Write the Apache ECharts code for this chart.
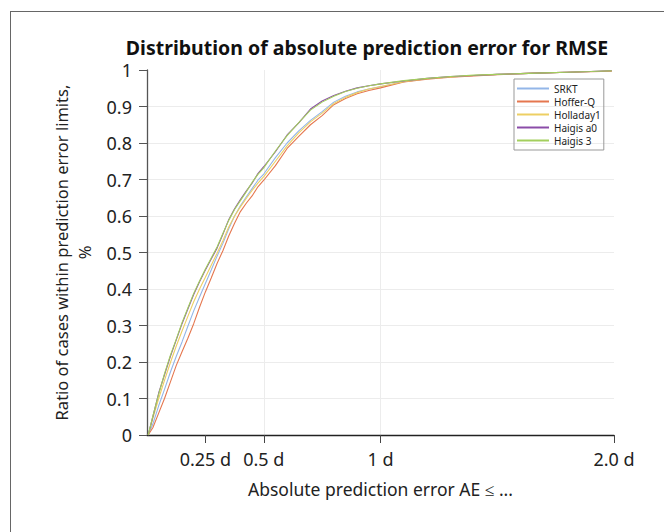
<!DOCTYPE html>
<html>
<head>
<meta charset="utf-8">
<script src="https://cdn.jsdelivr.net/npm/echarts@6/dist/echarts.min.js"></script>
<style>
  html, body { margin: 0; padding: 0; background: #fff; }
  #frame { position: absolute; left: 10px; top: 11px; right: 0; bottom: 0; border-top: 1.5px solid #666; border-left: 1.5px solid #666; }
  #chart { position: absolute; left: 0; top: 0; width: 664px; height: 532px; }
</style>
</head>
<body>
<div id="frame"></div>
<div id="chart"></div>
<script>
// Absolute prediction error limits (d)
var errorLimits = [0.005, 0.025, 0.05, 0.075, 0.1, 0.125, 0.15, 0.175, 0.2, 0.225, 0.25, 0.275, 0.3, 0.325, 0.35, 0.375, 0.4, 0.425, 0.45, 0.475, 0.5, 0.55, 0.6, 0.65, 0.7, 0.75, 0.8, 0.85, 0.9, 0.95, 1.0, 1.1, 1.2, 1.3, 1.4, 1.5, 1.6, 1.7, 1.8, 1.9, 1.99];

var srkt      = [0, 0.03, 0.08, 0.125, 0.172, 0.215, 0.255, 0.298, 0.34, 0.378, 0.415, 0.452, 0.49, 0.525, 0.565, 0.6, 0.628, 0.652, 0.675, 0.698, 0.715, 0.76, 0.8, 0.833, 0.862, 0.886, 0.912, 0.928, 0.94, 0.948, 0.954, 0.968, 0.976, 0.981, 0.985, 0.988, 0.99, 0.992, 0.994, 0.996, 0.997];
var hofferQ   = [0, 0.02, 0.06, 0.1, 0.145, 0.19, 0.228, 0.265, 0.305, 0.35, 0.392, 0.43, 0.47, 0.505, 0.545, 0.58, 0.612, 0.635, 0.655, 0.68, 0.698, 0.738, 0.785, 0.818, 0.85, 0.875, 0.905, 0.922, 0.935, 0.944, 0.951, 0.967, 0.975, 0.98, 0.984, 0.987, 0.99, 0.992, 0.994, 0.995, 0.997];
var holladay1 = [0, 0.045, 0.1, 0.15, 0.198, 0.243, 0.285, 0.325, 0.365, 0.4, 0.432, 0.465, 0.498, 0.532, 0.57, 0.6, 0.625, 0.648, 0.67, 0.69, 0.708, 0.75, 0.792, 0.828, 0.858, 0.882, 0.908, 0.925, 0.938, 0.948, 0.955, 0.968, 0.976, 0.981, 0.985, 0.988, 0.99, 0.992, 0.994, 0.996, 0.997];
var haigisA0  = [0, 0.05, 0.115, 0.165, 0.215, 0.26, 0.305, 0.345, 0.385, 0.42, 0.452, 0.482, 0.512, 0.55, 0.59, 0.62, 0.645, 0.668, 0.69, 0.716, 0.735, 0.776, 0.822, 0.855, 0.893, 0.915, 0.93, 0.942, 0.951, 0.957, 0.962, 0.97, 0.977, 0.982, 0.985, 0.988, 0.99, 0.992, 0.994, 0.996, 0.998];
var haigis3   = [0, 0.052, 0.112, 0.168, 0.218, 0.262, 0.308, 0.348, 0.388, 0.422, 0.455, 0.485, 0.515, 0.552, 0.588, 0.618, 0.642, 0.666, 0.692, 0.714, 0.732, 0.778, 0.82, 0.856, 0.89, 0.912, 0.928, 0.941, 0.95, 0.957, 0.962, 0.971, 0.977, 0.982, 0.986, 0.988, 0.99, 0.992, 0.994, 0.996, 0.998];

var seriesNames = ['SRKT', 'Hoffer-Q', 'Holladay1', 'Haigis a0', 'Haigis 3'];
var seriesValues = [srkt, hofferQ, holladay1, haigisA0, haigis3];
var seriesColors = ['#93b6e8', '#e5774f', '#edcf63', '#8b4ca8', '#a3cf5d'];

var xTickValues = [0.25, 0.5, 1, 2];
var xTickLabels = ['0.25 d', '0.5 d', '1 d', '2.0 d'];

var FONT = 'Noto Sans';

function pair(xs, ys) {
  return xs.map(function (x, i) { return [x, ys[i]]; });
}

var chart = echarts.init(document.getElementById('chart'), null, { renderer: 'svg' });
chart.setOption({
  backgroundColor: 'transparent',
  animation: false,
  textStyle: { fontFamily: FONT },
  title: {
    text: 'Distribution of absolute prediction error for RMSE',
    left: 362, top: 32, textAlign: 'center',
    textStyle: { fontFamily: FONT, fontSize: 19.5, fontWeight: 'bold', color: '#111' }
  },
  legend: {
    orient: 'vertical', left: 514, top: 79,
    padding: [3, 3, 3, 3], borderColor: '#999', borderWidth: 1,
    itemWidth: 32, itemHeight: 2, itemGap: 0, icon: 'rect',
    textStyle: { fontFamily: FONT, fontSize: 10, lineHeight: 13, color: '#222' },
    data: seriesNames
  },
  grid: { left: 147, right: 50, top: 70, bottom: 97 },
  xAxis: {
    type: 'value', min: 0, max: 2,
    name: 'Absolute prediction error AE \u2264 ...',
    nameLocation: 'middle', nameGap: 45,
    nameTextStyle: { fontFamily: FONT, fontSize: 17.5, color: '#222' },
    axisLine: { show: true, lineStyle: { color: '#222', width: 1.3 } },
    axisTick: { show: true, length: 8, customValues: xTickValues, lineStyle: { color: '#444' } },
    axisLabel: {
      customValues: xTickValues, margin: 15, fontSize: 18, color: '#222', fontFamily: FONT,
      formatter: function (v) { return xTickLabels[xTickValues.indexOf(v)]; }
    },
    splitLine: { show: true, showMinLine: false, showMaxLine: false, lineStyle: { color: '#ececec' } }
  },
  yAxis: {
    type: 'value', min: 0, max: 1, interval: 0.1,
    name: 'Ratio of cases within prediction error limits,\n%',
    nameLocation: 'middle', nameGap: 50,
    nameTextStyle: { fontFamily: FONT, fontSize: 16.5, color: '#222', lineHeight: 23 },
    axisLine: { show: true, lineStyle: { color: '#555', width: 1.3 } },
    axisTick: { show: true, length: 8, lineStyle: { color: '#555' } },
    axisLabel: {
      margin: 15, fontSize: 18, color: '#222', fontFamily: FONT,
      formatter: function (v) { return String(+v.toFixed(1)); }
    },
    splitLine: { show: true, showMinLine: false, showMaxLine: false, lineStyle: { color: '#ececec' } }
  },
  series: seriesNames.map(function (n, i) {
    return {
      name: n, type: 'line', symbol: 'none', showSymbol: false,
      data: pair(errorLimits, seriesValues[i]),
      lineStyle: { color: seriesColors[i], width: 1.1 },
      itemStyle: { color: seriesColors[i] }
    };
  })
});
</script>
</body>
</html>
